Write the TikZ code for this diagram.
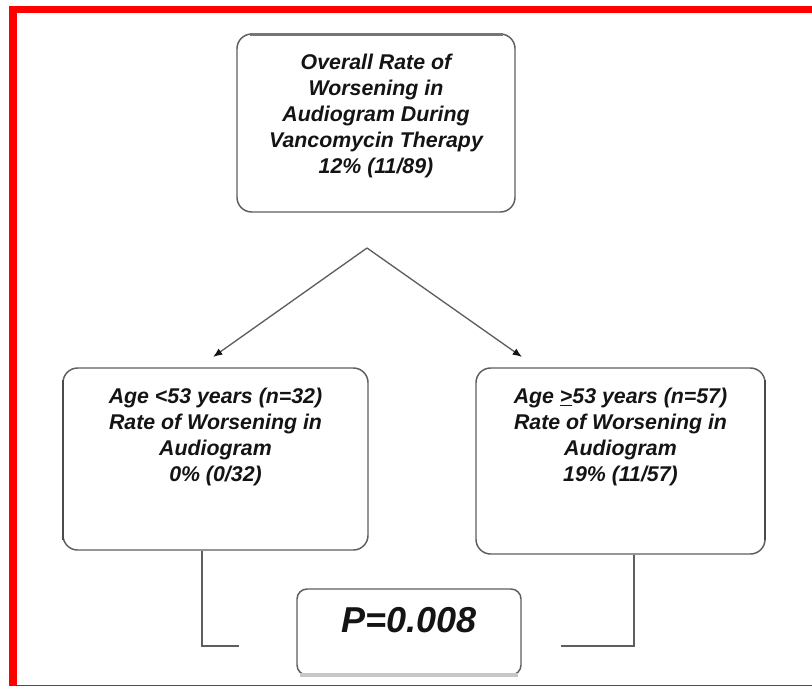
\documentclass[tikz,border=0pt]{standalone}
\usepackage{fontspec}
\setmainfont{Liberation Sans}
\usetikzlibrary{arrows.meta}

\definecolor{boxgray}{HTML}{5E5E5E}
\definecolor{inkgray}{HTML}{141414}
\newcommand{\boxtext}[3]{\parbox[c][#1][t]{#2}{\centering #3}}

\tikzset{
  box/.style={draw=boxgray, line width=1.1pt, rounded corners=11pt,
    inner xsep=0pt, inner ysep=15pt, text=inkgray,
    font=\fontsize{16}{19.5}\selectfont\bfseries\itshape},
  pbox/.style={box, rounded corners=7.5pt, inner ysep=14pt,
    font=\fontsize{27}{32}\selectfont\bfseries\itshape},
  link/.style={draw=boxgray, line width=1pt}
}

\begin{document}
\begin{tikzpicture}[x=0.75pt,y=-0.75pt]
\useasboundingbox (0,0) rectangle (812,685);
% red frame
\draw [red, line width=5.6pt, line join=miter] (12.85,695) -- (12.85,9.65) -- (820,9.65);
\draw [red, line width=4.5pt] (9,688) -- (820,688);

\node [box] (overall) at (376,123)
  {\boxtext{103.5pt}{208.5pt}{Overall Rate of\\ Worsening in\\ Audiogram During\\ Vancomycin Therapy\\ 12\% (11/89)}};
\node [box] (agelow) at (215.5,459)
  {\boxtext{106.5pt}{228.75pt}{Age <53 years (n=32)\\ Rate of Worsening in\\ Audiogram\\ 0\% (0/32)}};
\node [box] (agehigh) at (620.5,461)
  {\boxtext{109.5pt}{216.75pt}{Age \underline{>}53 years (n=57)\\ Rate of Worsening in\\ Audiogram\\ 19\% (11/57)}};
\node [pbox] (pvalue) at (409,632)
  {\boxtext{36.5pt}{168pt}{P=0.008}};

% heavier edges of the scan
\draw [boxgray!85, line width=2.6pt] (250,34.5) -- (503,34.5);
\draw [boxgray!80!black, line width=2pt] (63,380) -- (63,540);
\draw [boxgray!80!black, line width=2pt] (765,380) -- (765,540);
\draw [boxgray!35, line width=2.4pt] (300,675) -- (518,675);

% split arrows
\coordinate (apex) at (367,248);
\coordinate (lowtip) at (213,357);
\coordinate (hightip) at (522,357);
\draw [link, -{Latex[length=7pt,width=5.5pt,color=inkgray]}] (apex) -- (lowtip);
\draw [link, -{Latex[length=7pt,width=5.5pt,color=inkgray]}] (apex) -- (hightip);

% brackets to the p value
\coordinate (lowcorner) at (202,646);
\coordinate (lowend) at (239,646);
\coordinate (highcorner) at (634,646);
\coordinate (highend) at (561,646);
\draw [link, line width=1.3pt] (agelow.south -| lowcorner) -- (lowcorner) -- (lowend);
\draw [link, line width=1.3pt] (agehigh.south -| highcorner) -- (highcorner) -- (highend);
\end{tikzpicture}
\end{document}
